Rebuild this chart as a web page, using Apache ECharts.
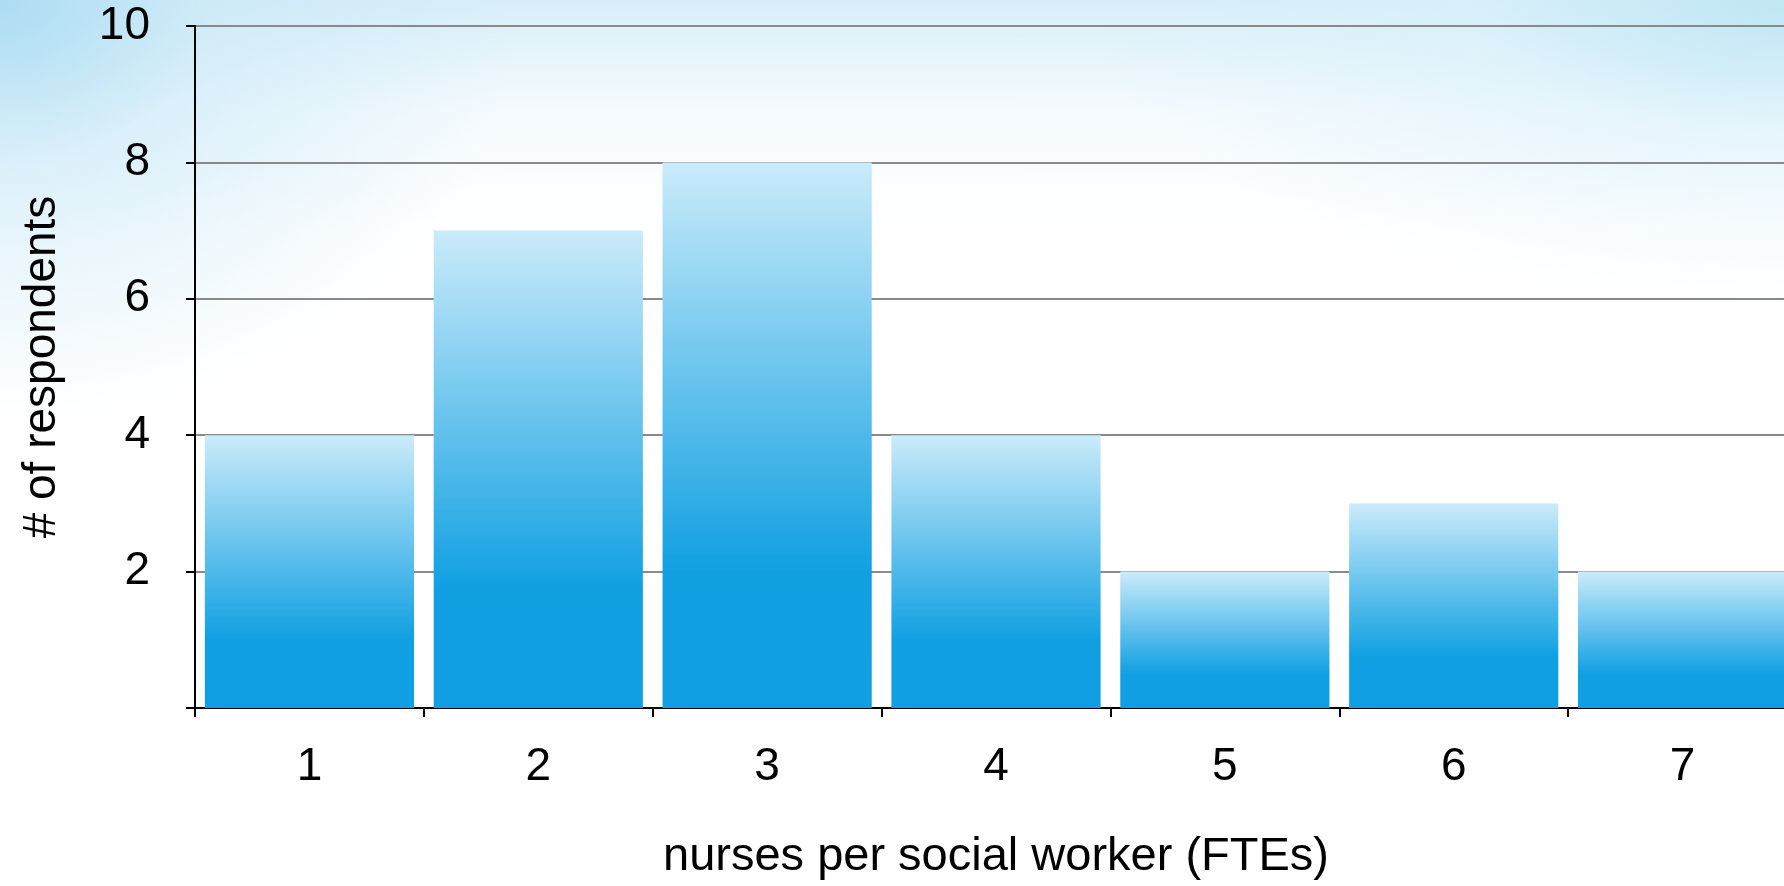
<!DOCTYPE html>
<html>
<head>
<meta charset="utf-8">
<script src="https://cdn.jsdelivr.net/npm/echarts@6/dist/echarts.min.js"></script>
<style>
html, body { margin:0; padding:0; width:1784px; height:886px; overflow:hidden; }
body {
  background:
    radial-gradient(ellipse 520px 420px at 0px 0px, rgba(170,220,243,0.95) 0%, rgba(200,232,247,0.6) 40%, rgba(255,255,255,0) 100%),
    radial-gradient(ellipse 700px 300px at 1784px 0px, rgba(190,230,245,0.95) 0%, rgba(215,240,250,0.5) 45%, rgba(255,255,255,0) 100%),
    linear-gradient(to bottom, rgba(215,238,248,1) 0px, rgba(245,251,254,1) 110px, #ffffff 230px);
}
#chart { width:1810px; height:886px; }
</style>
</head>
<body>
<div id="chart"></div>
<script>
const categories = ['1', '2', '3', '4', '5', '6', '7'];
const respondents = [4, 7, 8, 4, 2, 3, 2];
const yAxisTitle = '# of respondents';
const xAxisTitle = 'nurses per social worker (FTEs)';

const chart = echarts.init(document.getElementById('chart'), null, { renderer: 'canvas' });
const font = 'Liberation Sans, Arial, Helvetica, sans-serif';
chart.setOption({
  backgroundColor: 'transparent',
  animation: false,
  grid: { left: 195, top: 26, height: 686, width: 1602, containLabel: false },
  xAxis: {
    type: 'category',
    data: categories,
    boundaryGap: true,
    name: xAxisTitle,
    nameLocation: 'middle',
    nameGap: 126,
    nameTextStyle: { fontSize: 47, color: '#000', fontFamily: font },
    axisLine: { lineStyle: { color: '#000', width: 2 } },
    axisTick: { show: true, length: 9, lineStyle: { color: '#000', width: 2 } },
    axisLabel: { fontSize: 46, color: '#000', fontFamily: font, margin: 36 },
    splitLine: { show: false }
  },
  yAxis: {
    type: 'value',
    min: 0, max: 10, interval: 2,
    name: yAxisTitle,
    nameLocation: 'middle',
    nameGap: 130,
    nameRotate: 90,
    nameTextStyle: { fontSize: 46, color: '#000', fontFamily: font },
    axisLine: { show: true, lineStyle: { color: '#000', width: 2 } },
    axisTick: { show: true, length: 9, lineStyle: { color: '#000', width: 2 } },
    axisLabel: { fontSize: 46, color: '#000', fontFamily: font, margin: 45,
      formatter: v => v === 0 ? '' : String(v) },
    splitLine: { show: true, lineStyle: { color: '#8a8a8a', width: 2 } }
  },
  series: [{
    type: 'bar',
    data: respondents,
    barCategoryGap: '8.6%',
    itemStyle: {
      color: {
        type: 'linear', x: 0, y: 0, x2: 0, y2: 1,
        colorStops: [
          { offset: 0, color: '#cbebfa' },
          { offset: 0.75, color: '#10a0e2' },
          { offset: 1, color: '#0f9fe2' }
        ]
      }
    }
  }]
});
</script>
</body>
</html>
